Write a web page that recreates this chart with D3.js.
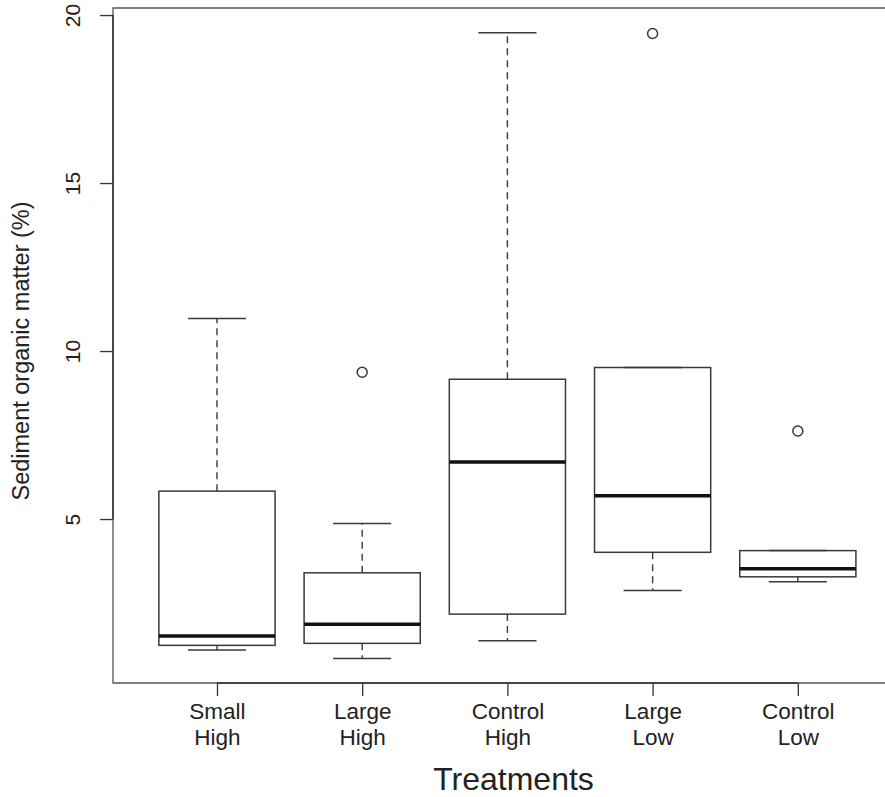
<!DOCTYPE html>
<html>
<head>
<meta charset="utf-8">
<script src="https://cdn.jsdelivr.net/npm/d3@7"></script>
<style>
  html, body { margin: 0; padding: 0; background: #ffffff; }
  svg { display: block; }
  text { font-family: "Liberation Sans", Arial, Helvetica, sans-serif; fill: #222; }
</style>
</head>
<body>
<svg id="chart" width="885" height="797"></svg>
<script>
// ---- Data ----
const categories = [["Small", "High"], ["Large", "High"], ["Control", "High"], ["Large", "Low"], ["Control", "Low"]];
const lowerWhisker = [1.10, 0.85, 1.38, 2.87, 3.13];
const q1 = [1.24, 1.30, 2.17, 4.01, 3.28];
const median = [1.52, 1.87, 6.70, 5.69, 3.52];
const q3 = [5.83, 3.40, 9.16, 9.51, 4.06];
const upperWhisker = [10.97, 4.87, 19.47, 9.51, 4.06];
const outliers = [[], [9.37], [], [19.45], [7.62]];
const yTicks = [5, 10, 15, 20];
const yLabel = "Sediment organic matter (%)";
const xLabel = "Treatments";

// ---- Layout ----
const svg = d3.select("#chart");
const plotLeft = 113, plotTop = 8, plotBottom = 683, plotRight = 914;

const x = d3.scaleLinear().domain([0.284, 5.8]).range([plotLeft, plotRight]);
const y = d3.scaleLinear().domain([0.12, 20.21]).range([plotBottom, plotTop]);

const boxes = categories.map((c, i) => ({
  pos: i + 1, label: c,
  lo: lowerWhisker[i], q1: q1[i], med: median[i], q3: q3[i], hi: upperWhisker[i], out: outliers[i]
}));

const lineCol = "#3a3a3a";

// Frame (right side lies beyond the picture)
svg.append("path")
  .attr("d", `M${plotRight},${plotTop}H${plotLeft}V${plotBottom}H${plotRight}`)
  .attr("fill", "none").attr("stroke", "#555").attr("stroke-width", 1.3);

// Y axis
const yAxis = d3.axisLeft(y).tickValues(yTicks).tickSize(13).tickFormat(d3.format("d"));
const gy = svg.append("g").attr("transform", `translate(${plotLeft},0)`).call(yAxis);
gy.select(".domain").remove();
gy.append("line").attr("x1", 0).attr("x2", 0).attr("y1", y(yTicks[0])).attr("y2", y(yTicks[yTicks.length - 1]))
  .attr("stroke", "#333").attr("stroke-width", 1.5);
gy.selectAll(".tick line").attr("stroke", "#333").attr("stroke-width", 1.3);
gy.selectAll(".tick text")
  .attr("font-size", 21).attr("fill", "#222")
  .attr("x", 0).attr("y", 0).attr("dy", null)
  .attr("text-anchor", "middle")
  .attr("transform", "translate(-33,0) rotate(-90)");

// X axis
const xAxis = d3.axisBottom(x).tickValues(boxes.map(b => b.pos)).tickSize(13).tickFormat("");
const gx = svg.append("g").attr("transform", `translate(0,${plotBottom})`).call(xAxis);
gx.select(".domain").remove();
gx.append("line").attr("x1", x(1)).attr("x2", x(boxes.length)).attr("y1", 0).attr("y2", 0)
  .attr("stroke", "#333").attr("stroke-width", 1.5);
gx.selectAll(".tick line").attr("stroke", "#333").attr("stroke-width", 1.3);
gx.selectAll(".tick").each(function(d, i) {
  const t = d3.select(this).append("text")
    .attr("text-anchor", "middle").attr("font-size", 22.5).attr("fill", "#222");
  categories[i].forEach((line, k) => {
    t.append("tspan").attr("x", 0).attr("y", 36 + k * 26).text(line);
  });
});

// Boxes
const bw = 0.8, sw = 0.4;
const g = svg.append("g");
boxes.forEach(b => {
  const cx = x(b.pos);
  if (b.hi > b.q3) {
    g.append("line").attr("x1", cx).attr("x2", cx).attr("y1", y(b.q3)).attr("y2", y(b.hi))
      .attr("stroke", lineCol).attr("stroke-width", 1.4).attr("stroke-dasharray", "7,5");
  }
  if (b.lo < b.q1) {
    g.append("line").attr("x1", cx).attr("x2", cx).attr("y1", y(b.q1)).attr("y2", y(b.lo))
      .attr("stroke", lineCol).attr("stroke-width", 1.4).attr("stroke-dasharray", "7,5");
  }
  [b.hi, b.lo].forEach(v => {
    g.append("line").attr("x1", x(b.pos - sw / 2)).attr("x2", x(b.pos + sw / 2))
      .attr("y1", y(v)).attr("y2", y(v))
      .attr("stroke", lineCol).attr("stroke-width", 1.5);
  });
  g.append("rect")
    .attr("x", x(b.pos - bw / 2)).attr("width", x(b.pos + bw / 2) - x(b.pos - bw / 2))
    .attr("y", y(b.q3)).attr("height", y(b.q1) - y(b.q3))
    .attr("fill", "none").attr("stroke", lineCol).attr("stroke-width", 1.5);
  g.append("line").attr("x1", x(b.pos - bw / 2)).attr("x2", x(b.pos + bw / 2))
    .attr("y1", y(b.med)).attr("y2", y(b.med))
    .attr("stroke", "#111").attr("stroke-width", 3.5);
  b.out.forEach(v => {
    g.append("circle").attr("cx", cx).attr("cy", y(v)).attr("r", 5)
      .attr("fill", "none").attr("stroke", lineCol).attr("stroke-width", 1.5);
  });
});

// Axis titles
svg.append("text").attr("x", (plotLeft + plotRight) / 2).attr("y", 790)
  .attr("text-anchor", "middle").attr("font-size", 32).text(xLabel);
svg.append("text")
  .attr("transform", "translate(29,351) rotate(-90)")
  .attr("text-anchor", "middle").attr("font-size", 23.5).text(yLabel);
</script>
</body>
</html>
